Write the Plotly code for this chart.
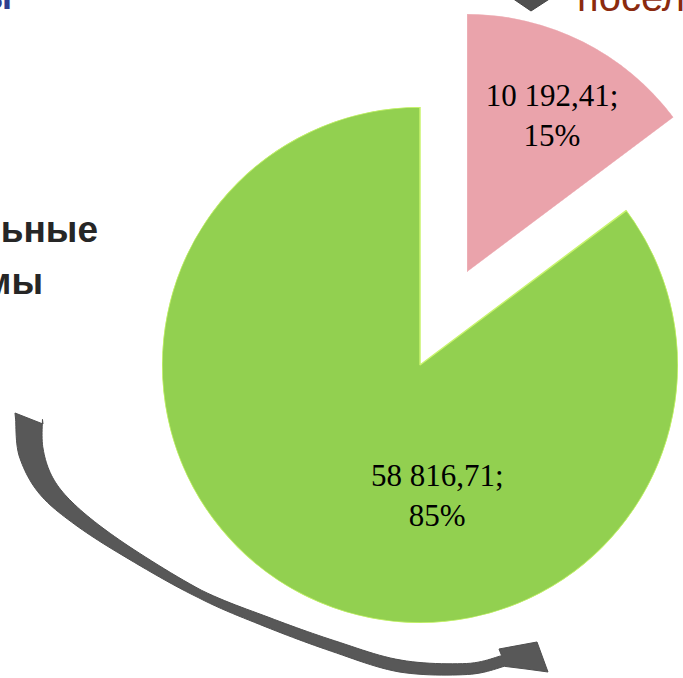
import math
import plotly.graph_objects as go

W, H = 683, 678

# ---- data ----
slice_names = ["Поселения", "Муниципальные районы"]
slice_values = [10192.41, 58816.71]
slice_colors = ["#EAA3AB", "#92D050"]
edge_colors = ["#F0B9BF", "#C8F46C"]

total = sum(slice_values)
shares = [v / total for v in slice_values]
spans = [s * 360 for s in shares]


def fmt(v):
    return f"{v:,.2f}".replace(",", " ").replace(".", ",")


slice_texts = [f"{fmt(v)};<br>{round(s * 100)}%" for v, s in zip(slice_values, shares)]


def px_x(x):
    return x / W


def px_y(y):
    return 1 - y / H


R = 258               # pie radius (px)
CX, CY = 420, 365     # centre of the main pie
PX, PY = 467, 272     # vertex of the pulled-out slice
label_font = dict(family="Liberation Serif", size=31, color="black")

fig = go.Figure()

# ---- overlay pixel axis for free texts ----
fig.add_trace(go.Scatter(
    x=[98, 43], y=[233, 285], mode="text", text=["<b>ьные</b>", "<b>мы</b>"],
    textposition="middle left", cliponaxis=False, hoverinfo="skip", showlegend=False,
    textfont=dict(family="Liberation Sans", size=37, color="#262626"),
))
fig.add_trace(go.Scatter(
    x=[12], y=[0], mode="text", text=["<b>ы</b>"],
    textposition="middle left", cliponaxis=False, hoverinfo="skip", showlegend=False,
    textfont=dict(family="Liberation Sans", size=37, color="#2F3F8F"),
))
fig.add_trace(go.Scatter(
    x=[577], y=[1], mode="text", text=["посел"],
    textposition="middle right", cliponaxis=False, hoverinfo="skip", showlegend=False,
    textfont=dict(family="Liberation Sans", size=40, color="#8B2A0E"),
))

# ---- main pie (remaining slice) ----
fig.add_trace(go.Barpolar(
    r=[1], theta=[spans[0] + spans[1] / 2], width=[spans[1]], subplot="polar2",
    marker=dict(color=slice_colors[1], line=dict(color=edge_colors[1], width=1.5)),
    showlegend=False, name=slice_names[1],
))
fig.add_trace(go.Scatterpolar(
    r=[0.52], theta=[172.6], mode="text", text=[slice_texts[1]], subplot="polar2",
    textfont=label_font, showlegend=False, hoverinfo="skip",
))

# ---- pulled-out slice in a sector subplot ----
a0 = 90 - spans[0]
fig.add_trace(go.Barpolar(
    r=[1], theta=[spans[0] / 2], width=[spans[0]], subplot="polar",
    marker=dict(color=slice_colors[0], line=dict(color=edge_colors[0], width=1)),
    showlegend=False, name=slice_names[0],
))
fig.add_trace(go.Scatterpolar(
    r=[0.68], theta=[spans[0] / 2 + 2.4], mode="text", text=[slice_texts[0]], subplot="polar",
    textfont=label_font, showlegend=False, hoverinfo="skip",
))

bw = R * math.cos(math.radians(a0))
hidden_polar = dict(
    bgcolor="rgba(0,0,0,0)",
    radialaxis=dict(visible=False, range=[0, 1]),
    angularaxis=dict(visible=False, rotation=90, direction="clockwise"),
)
fig.update_layout(
    polar=dict(domain=dict(x=[px_x(PX), px_x(PX + bw)], y=[px_y(PY), px_y(PY - R)]),
               sector=[a0, 90], **hidden_polar),
    polar2=dict(domain=dict(x=[px_x(CX - R), px_x(CX + R)], y=[px_y(CY + R), px_y(CY - R)]),
                **hidden_polar),
    xaxis=dict(range=[0, W], visible=False, fixedrange=True, domain=[0, 1]),
    yaxis=dict(range=[H, 0], visible=False, fixedrange=True, domain=[0, 1]),
)


# ---- decorative curved arrow (smooth band) ----
centre = [(29, 418), (31, 452), (46, 486), (76, 516), (126, 551), (200, 594),
          (267, 622), (333, 646), (400, 666), (467, 669), (503, 661)]
thick = [27, 25, 20, 15, 11, 8, 10, 11, 12, 11, 11]


def catmull(pts, vals, n=12):
    out, ov = [], []
    P = [pts[0]] + pts + [pts[-1]]
    V = [vals[0]] + vals + [vals[-1]]
    for i in range(1, len(P) - 2):
        p0, p1, p2, p3 = P[i - 1], P[i], P[i + 1], P[i + 2]
        for k in range(n):
            t = k / n
            t2, t3 = t * t, t * t * t
            x = 0.5 * (2 * p1[0] + (-p0[0] + p2[0]) * t + (2 * p0[0] - 5 * p1[0] + 4 * p2[0] - p3[0]) * t2
                       + (-p0[0] + 3 * p1[0] - 3 * p2[0] + p3[0]) * t3)
            y = 0.5 * (2 * p1[1] + (-p0[1] + p2[1]) * t + (2 * p0[1] - 5 * p1[1] + 4 * p2[1] - p3[1]) * t2
                       + (-p0[1] + 3 * p1[1] - 3 * p2[1] + p3[1]) * t3)
            out.append((x, y))
            ov.append(V[i] + (V[i + 1] - V[i]) * t)
    out.append(pts[-1])
    ov.append(vals[-1])
    return out, ov


cl, cw = catmull(centre, thick)
side_a, side_b = [], []
for i, (x, y) in enumerate(cl):
    j0, j1 = max(i - 1, 0), min(i + 1, len(cl) - 1)
    tx, ty = cl[j1][0] - cl[j0][0], cl[j1][1] - cl[j0][1]
    L = math.hypot(tx, ty) or 1
    nx, ny = -ty / L, tx / L
    h = cw[i] / 2
    side_a.append((x - nx * h, y - ny * h))
    side_b.append((x + nx * h, y + ny * h))
side_a[0] = (43, 424)   # slanted tail cut
side_b[0] = (15, 413)

head = [(499, 649), (537, 642), (548, 672), (526, 669)]
arrow_pts = side_a + head + side_b[::-1]


def path_from(points, close=True):
    s = ""
    for i, (x, y) in enumerate(points):
        s += ("M" if i == 0 else "L") + f"{px_x(x):.5f},{px_y(y):.5f} "
    return s + ("Z" if close else "")


top_arrow = [(512, -2), (551, -2), (531, 11)]

fig.update_layout(
    shapes=[
        dict(type="path", xref="paper", yref="paper", path=path_from(arrow_pts),
             fillcolor="#585858", line=dict(color="#4f4f4f", width=1)),
        dict(type="path", xref="paper", yref="paper", path=path_from(top_arrow),
             fillcolor="#505050", line=dict(color="#444444", width=1)),
    ],
    width=W, height=H,
    margin=dict(l=0, r=0, t=0, b=0, autoexpand=False),
    paper_bgcolor="white", plot_bgcolor="rgba(0,0,0,0)",
    showlegend=False,
)

fig.write_html("out.html", config={"displayModeBar": False, "staticPlot": True},
               post_script="document.body.style.margin='0';")
